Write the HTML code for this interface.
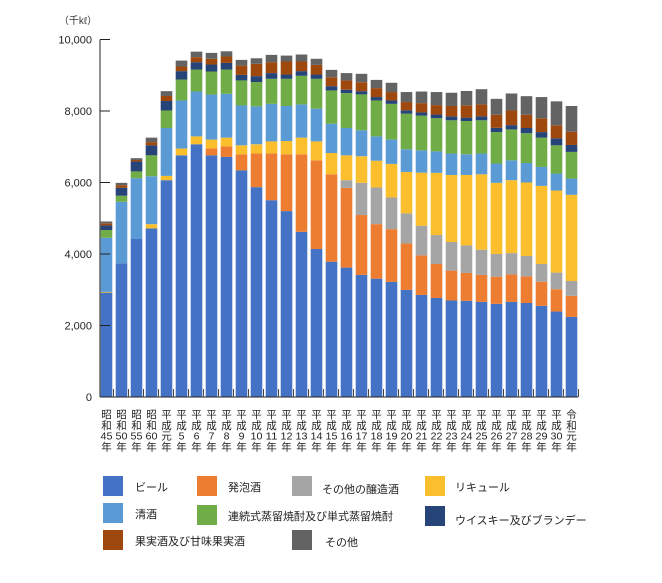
<!DOCTYPE html>
<html><head><meta charset="utf-8"><style>
html,body{margin:0;padding:0;background:#fff;}
svg{display:block;font-family:"Liberation Sans","Noto Sans CJK JP",sans-serif;}
</style></head><body>
<svg id="chart" width="662" height="583" viewBox="0 0 662 583" xmlns="http://www.w3.org/2000/svg">
<rect x="0" y="0" width="662" height="583" fill="#fff"/>
<g id="bars"></g>
<g id="axes"></g>
<g id="legend"></g>
</svg>
<script>
const categories = [["昭","和","45","年"],["昭","和","50","年"],["昭","和","55","年"],["昭","和","60","年"],["平","成","元","年"],["平","成","5","年"],["平","成","6","年"],["平","成","7","年"],["平","成","8","年"],["平","成","9","年"],["平","成","10","年"],["平","成","11","年"],["平","成","12","年"],["平","成","13","年"],["平","成","14","年"],["平","成","15","年"],["平","成","16","年"],["平","成","17","年"],["平","成","18","年"],["平","成","19","年"],["平","成","20","年"],["平","成","21","年"],["平","成","22","年"],["平","成","23","年"],["平","成","24","年"],["平","成","25","年"],["平","成","26","年"],["平","成","27","年"],["平","成","28","年"],["平","成","29","年"],["平","成","30","年"],["令","和","元","年"]];
const beer =      [2920,3740,4420,4715,6065,6760,7070,6760,6715,6340,5870,5505,5200,4620,4140,3785,3620,3415,3310,3220,2995,2855,2770,2700,2690,2660,2605,2660,2630,2550,2390,2240];
const happoshu =  [0,0,0,0,0,0,0,190,295,450,940,1305,1590,2170,2480,2445,2230,1675,1525,1475,1300,1105,950,835,780,755,760,770,745,675,625,590];
const otherBrew = [0,0,0,0,0,0,0,0,0,0,0,0,0,0,0,0,215,900,1025,885,840,830,810,800,770,705,635,595,570,495,465,415];
const liqueur =   [20,0,0,120,120,190,220,250,245,250,260,340,370,465,530,595,695,745,750,940,1160,1485,1740,1875,1970,2110,1990,2040,2055,2185,2295,2410];
const sake =      [1515,1720,1700,1340,1340,1345,1255,1260,1225,1115,1060,1050,980,930,915,820,765,725,680,680,635,625,600,600,580,580,540,555,545,530,475,455];
const shochu =    [215,170,190,585,490,585,615,645,680,700,680,700,760,800,835,930,975,1005,1005,1000,995,970,930,930,930,930,880,865,835,820,790,745];
const whisky =    [130,220,280,280,265,235,205,195,185,155,165,160,120,130,120,120,95,90,95,95,95,90,100,110,95,110,120,120,145,155,195,195];
const fruit =     [60,75,40,90,140,130,140,160,180,260,345,305,365,270,270,250,260,250,250,235,230,260,265,290,345,335,365,410,370,385,365,370];
const other =     [50,65,50,125,135,165,155,165,145,160,155,205,165,195,170,205,205,235,230,260,280,325,365,370,400,425,445,475,520,595,670,720];
const yTicks = [0,2000,4000,6000,8000,10000];
const yTickLabels = ["0","2,000","4,000","6,000","8,000","10,000"];
const seriesNames = ["ビール","発泡酒","その他の醸造酒","リキュール","清酒","連続式蒸留焼酎及び単式蒸留焼酎","ウイスキー及びブランデー","果実酒及び甘味果実酒","その他"];

const seriesList = [beer,happoshu,otherBrew,liqueur,sake,shochu,whisky,fruit,other];
const seriesKeys = ["beer","happoshu","other-brewed","liqueur","sake","shochu","whisky-brandy","fruit-wine","other"];
const colors = ["#4472C4","#ED7D31","#A5A5A5","#FBBF2D","#5B9BD5","#70AD47","#264478","#9E480E","#636363"];
const NS="http://www.w3.org/2000/svg";
const x0=100, pitch=15, barW=11.6, y0=397, yTop=39.5, yMax=10000;
function yScale(v){return y0-(v/yMax)*(y0-yTop);}
function xScale(i){return x0+0.7+pitch*i;}
function mk(tag,attrs,parent){const e=document.createElementNS(NS,tag);for(const k in attrs)e.setAttribute(k,attrs[k]);parent.appendChild(e);return e;}

const gb=document.getElementById('bars');
for(let i=0;i<categories.length;i++){
  let cum=0;
  for(let s=0;s<seriesList.length;s++){
    const v=seriesList[s][i];
    if(v<=0){continue;}
    const r=mk('rect',{x:xScale(i),y:yScale(cum+v),width:barW,height:yScale(cum)-yScale(cum+v),fill:colors[s]},gb);
    
    
    cum+=v;
  }
}

const ga=document.getElementById('axes');
const yl=mk('line',{x1:x0,y1:yTop,x2:x0,y2:y0,stroke:'#222','stroke-width':1},ga);


const xl=mk('line',{x1:x0,y1:y0,x2:x0+pitch*categories.length-2,y2:y0,stroke:'#222','stroke-width':1},ga);


for(let k=0;k<yTicks.length;k++){
  const y=yScale(yTicks[k]);
  mk('line',{x1:x0,y1:y,x2:x0+10,y2:y,stroke:'#222','stroke-width':1},ga);
  const t=mk('text',{x:92,y:y+4,'text-anchor':'end','font-size':11,fill:'#222'},ga);
  t.textContent=yTickLabels[k];
  
  
}
for(let i=1;i<=categories.length;i++){
  const x=x0+pitch*i-1.5;
  mk('line',{x1:x,y1:y0-8,x2:x,y2:y0,stroke:'#444','stroke-width':1},ga);
}
const unit=mk('text',{x:78,y:24,'text-anchor':'middle','font-size':10,fill:'#333'},ga);
unit.textContent='（千kℓ）';


for(let i=0;i<categories.length;i++){
  const cx=xScale(i)+barW/2;
  const g=mk('g',{},ga);
  
  
  categories[i].forEach((ch,j)=>{
    const t=mk('text',{x:cx,y:418+j*10.8,'text-anchor':'middle','font-size':10.5,fill:'#222'},g);
    if(ch.length>1){t.setAttribute('textLength',12);t.setAttribute('lengthAdjust','spacingAndGlyphs');}
    t.textContent=ch;
  });
}

const gl=document.getElementById('legend');
const legendPos=[[103,476,135,491],[197,476,228,491],[292,476,322,493],[425,476,455,491],[103,503,135,518],[197,505,228,520],[425,506,455,524],[103,530,135,545],[292,530,325,546]];
for(let s=0;s<seriesNames.length;s++){
  const p=legendPos[s];
  const g=mk('g',{},gl);
  
  
  mk('rect',{x:p[0],y:p[1],width:20,height:20,fill:colors[s]},g);
  const t=mk('text',{x:p[2],y:p[3],'font-size':11,fill:'#222'},g);
  t.textContent=seriesNames[s];
}
</script>
</body></html>
